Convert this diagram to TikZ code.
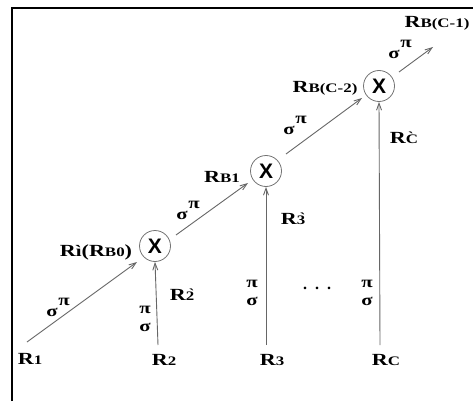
\documentclass[tikz,border=0pt]{standalone}
\usepackage{fontspec}
\usepackage{graphicx}
\setmainfont{Liberation Serif}
\newfontfamily\xfont{Liberation Sans}
\usetikzlibrary{arrows.meta}
\newcommand{\wide}[1]{\scalebox{1.3}[1]{#1}}
\newcommand{\bigR}{{\fontsize{17}{17}\selectfont\bfseries R}}
\newcommand{\subt}[1]{{\fontsize{13}{13}\selectfont\bfseries #1}}
\newcommand{\Rsub}[1]{\wide{\bigR\subt{#1}}}
\newcommand{\Rgr}[1]{\wide{\bigR\subt{\`{#1}}}}
\newcommand{\sigpi}{\wide{\fontsize{16}{16}\selectfont\bfseries σ\kern0.5pt\raisebox{11pt}{π}}}
\newcommand{\pisig}{\wide{\fontsize{16}{16}\selectfont\bfseries\shortstack{π\\[7pt]σ}}}
\begin{document}
\begin{tikzpicture}[x=1pt,y=-1pt,
  mult/.style={circle,draw=black!55,line width=0.8pt,minimum size=31pt,inner sep=0pt},
  conn/.style={draw=black!60,line width=0.9pt,-{Straight Barb[length=7pt,width=5pt,line width=0.9pt]}},
  lbl/.style={inner sep=0pt,anchor=center}]
\useasboundingbox (0,0) rectangle (473,401);
\draw[line width=2pt] (12,401) -- (12,8) -- (473,8);
% multipliers
\node[mult] (c1) at (155,246) {\xfont\bfseries\fontsize{21}{21}\selectfont X};
\node[mult] (c2) at (266,171) {\xfont\bfseries\fontsize{21}{21}\selectfont X};
\node[mult] (c3) at (379,86) {\xfont\bfseries\fontsize{21}{21}\selectfont X};
% end coordinates
\coordinate (s1) at (27,342);
\coordinate (t1) at (137,262);
\coordinate (b2) at (158,345);
\coordinate (b3) at (266,345);
\coordinate (bc) at (380,345);
\coordinate (o2) at (176,235);
\coordinate (t2) at (248,183);
\coordinate (o3) at (286,154);
\coordinate (t3) at (362,98);
\coordinate (o4) at (399,72);
\coordinate (t4) at (433,47);
% connectors
\draw[conn] (s1) -- (t1);
\draw[conn] (o2) -- (t2);
\draw[conn] (o3) -- (t3);
\draw[conn] (o4) -- (t4);
\draw[conn] (b2) -- (c1.south);
\draw[conn] (b3) -- (c2.south);
\draw[conn] (bc) -- (c3.south);
% labels
\node[lbl] (r1) at (30,359) {\Rsub{1}};
\node[lbl] (r2) at (164,360) {\Rsub{2}};
\node[lbl] (r3) at (272,360) {\Rsub{3}};
\node[lbl] (rc) at (386,360) {\Rsub{C}};
\node[lbl] (rb0) at (96,252) {\wide{\bigR{\fontsize{16}{16}\selectfont\bfseries\`{\i}}{\fontsize{17}{17}\selectfont\bfseries(}\bigR\subt{B0}{\fontsize{17}{17}\selectfont\bfseries)}}};
\node[lbl] (rp2) at (182,295) {\Rgr{2}};
\node[lbl] (rb1) at (222,177) {\Rsub{B1}};
\node[lbl] (rp3) at (293,219) {\Rgr{3}};
\node[lbl] (rbc2) at (325,88) {\Rsub{B(C-2)}};
\node[lbl] (rpc) at (404,138) {\Rgr{C}};
\node[lbl] (rbc1) at (437,23) {\Rsub{B(C-1)}};
% sigma pi labels
\node[lbl] (sp1) at (58,307) {\sigpi};
\node[lbl] (sp2) at (188,210) {\sigpi};
\node[lbl] (sp3) at (295,125) {\sigpi};
\node[lbl] (sp4) at (400,49) {\sigpi};
\node[lbl] (ps2) at (145,319) {\pisig};
\node[lbl] (ps3) at (252,293) {\pisig};
\node[lbl] (psc) at (367,293) {\pisig};
\node[lbl] (dots) at (317,288) {\bfseries\fontsize{16}{16}\selectfont .\hspace{8pt}.\hspace{8pt}.};
\end{tikzpicture}
\end{document}
